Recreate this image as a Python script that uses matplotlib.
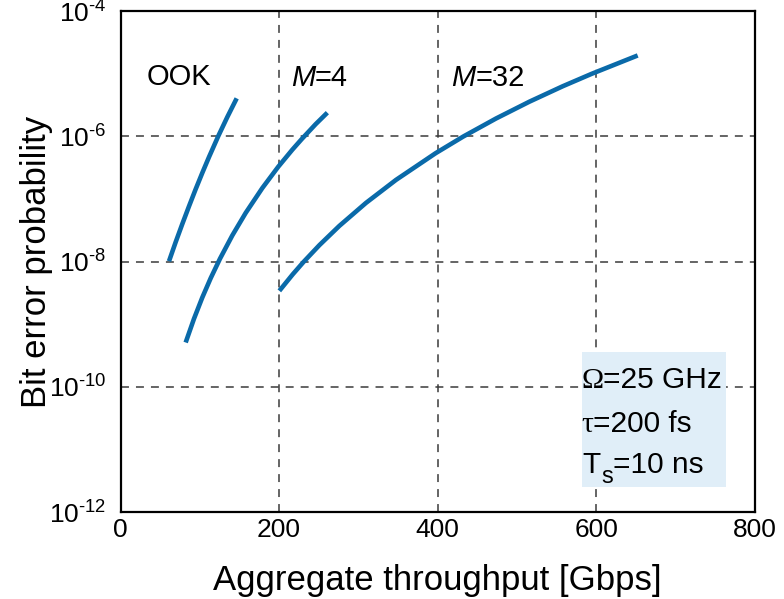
import matplotlib
matplotlib.use("Agg")
import matplotlib.pyplot as plt
from matplotlib.patches import Rectangle
from matplotlib.ticker import FixedLocator, FixedFormatter, NullLocator

plt.rcParams['font.family'] = ['Liberation Sans', 'DejaVu Sans']
plt.rcParams['mathtext.fontset'] = 'custom'
plt.rcParams['mathtext.rm'] = 'Liberation Sans'
plt.rcParams['mathtext.it'] = 'Liberation Sans:italic'

# ---- data ----
ook_x = [61.15, 69.56, 77.97, 86.37, 94.78, 103.18, 111.59, 123.35, 134.7, 146.5]
ook_ber = [1.01e-8, 2.04e-8, 3.99e-8, 7.62e-8, 1.43e-7, 2.61e-7, 4.66e-7,
           1.01e-6, 2.03e-6, 4.03e-6]

m4_x = [82.17, 92.67, 103.18, 113.69, 125.46, 141.0, 157.82, 178.83, 199.0,
        216.66, 228.43, 246.08, 260.8]
m4_ber = [5.09e-10, 1.22e-9, 2.67e-9, 5.41e-9, 1.11e-8, 2.61e-8, 5.96e-8,
          1.49e-7, 3.27e-7, 6.10e-7, 8.99e-7, 1.56e-6, 2.38e-6]

m32_x = [200.27, 217.08, 230.52, 250.7, 275.91, 309.54, 347.37, 397.39,
         432.26, 473.46, 515.48, 557.52, 594.09, 652.08]
m32_ber = [3.40e-9, 6.22e-9, 9.75e-9, 1.82e-8, 3.70e-8, 8.63e-8, 2.01e-7,
           5.37e-7, 9.91e-7, 1.92e-6, 3.56e-6, 6.28e-6, 9.93e-6, 1.95e-5]

x_ticks = [0, 200, 400, 600, 800]
x_ticklabels = ['0', '200', '400', '600', '800']
y_ticks = [1e-12, 1e-10, 1e-8, 1e-6, 1e-4]
y_ticklabels = ['$\\mathregular{10^{\u2010' + e + '}}$' for e in ['12', '10', '8', '6', '4']]

line_color = '#0a6aa9'

fig = plt.figure(figsize=(7.84, 5.99), dpi=100)
ax = fig.add_axes([120.5 / 784, 87 / 599, 634.5 / 784, 501 / 599])

for xs, ys in [(ook_x, ook_ber), (m4_x, m4_ber), (m32_x, m32_ber)]:
    ax.plot(xs, ys, color=line_color, lw=3.3, solid_capstyle='butt',
            solid_joinstyle='round', zorder=3)

ax.set_yscale('log')
ax.set_xlim(0, 800)
ax.set_ylim(1e-12, 1e-4)
ax.xaxis.set_major_locator(FixedLocator(x_ticks))
ax.xaxis.set_major_formatter(FixedFormatter(x_ticklabels))
ax.yaxis.set_major_locator(FixedLocator(y_ticks))
ax.yaxis.set_major_formatter(FixedFormatter(y_ticklabels))
ax.yaxis.set_minor_locator(NullLocator())
ax.tick_params(axis='both', length=0, colors='black')
ax.tick_params(axis='x', pad=4, labelsize=19)
ax.tick_params(axis='y', pad=10, labelsize=19)

ax.grid(True, which='major', color='#3a3a3a', lw=1.1, linestyle=(0, (5.2, 4.6)))
for s in ax.spines.values():
    s.set_linewidth(1.6)
    s.set_color('black')

ax.set_xlabel('Aggregate throughput [Gbps]', fontsize=25, labelpad=16)
ax.set_ylabel('Bit error probability', fontsize=25, labelpad=-3)

# curve labels
ax.text(33, 10 ** -5.06, 'OOK', fontsize=21, va='center', ha='left')
t = ax.text(214.6, 10 ** -5.075, 'M', fontsize=21, va='center', ha='left', style='italic')
ax.annotate('=4', xy=(1, 0), xycoords=t, fontsize=21, va='bottom', ha='left')
t = ax.text(416.7, 10 ** -5.075, 'M', fontsize=21, va='center', ha='left', style='italic')
ax.annotate('=32', xy=(1, 0), xycoords=t, fontsize=21, va='bottom', ha='left')

# parameter box
fs = 21.5
ax.add_patch(Rectangle((0.728, 0.049), 0.226, 0.270, transform=ax.transAxes,
                       facecolor='#e0eef8', edgecolor='none', zorder=4))
t = ax.text(0.726, 0.247, 'Ω', transform=ax.transAxes, fontsize=fs,
            family='Liberation Serif', va='baseline', ha='left', zorder=5)
ax.annotate('=25 GHz', xy=(1, 0), xycoords=t, fontsize=fs, va='bottom', ha='left', zorder=5)
t = ax.text(0.726, 0.160, 'τ', transform=ax.transAxes, fontsize=fs,
            family='Liberation Serif', va='baseline', ha='left', zorder=5)
ax.annotate('=200 fs', xy=(1, 0), xycoords=t, fontsize=fs, va='bottom', ha='left', zorder=5)
tT = ax.text(0.728, 0.077, 'T', transform=ax.transAxes, fontsize=fs,
             va='baseline', ha='left', zorder=5)
ts = ax.annotate('s', xy=(1, 0), xycoords=tT, xytext=(0.5, -6), textcoords='offset points',
                 fontsize=17, va='bottom', ha='left', zorder=5)
ax.annotate('=10 ns', xy=(1, 0), xycoords=(ts, tT), fontsize=fs, va='bottom', ha='left',
            zorder=5)

fig.savefig('out.png', dpi=100)
